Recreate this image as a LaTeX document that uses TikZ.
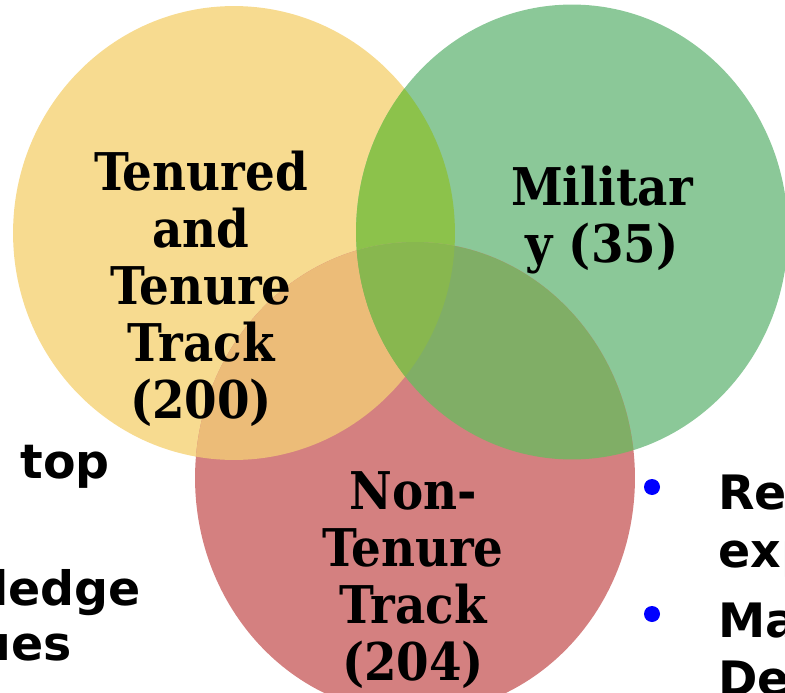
\documentclass[tikz,border=0pt]{standalone}
\usepackage{fontspec}
\newfontfamily\vennfont{DejaVu Serif Condensed}
\newfontfamily\sidefont{DejaVu Sans}
\definecolor{tenfill}{HTML}{F7DB90}
\definecolor{milfill}{HTML}{8BC898}
\definecolor{ntfill}{HTML}{D48080}
\definecolor{tmfill}{HTML}{8CC24B}
\definecolor{tnfill}{HTML}{ECBC78}
\definecolor{mnfill}{HTML}{80AE66}
\definecolor{allfill}{HTML}{88B74F}
\begin{document}
\begin{tikzpicture}[x = 0.02cm, y = -0.02cm,
    venn/.style = {font = \vennfont\bfseries\fontsize{29.6}{32.4}\selectfont, align = center, inner sep = 0pt},
    side/.style = {font = \sidefont\bfseries\fontsize{27}{31}\selectfont, inner sep = 0pt},
    bullet/.style = {circle, fill = blue, inner sep = 0pt, minimum size = 0.32cm}]
        \useasboundingbox (0,0) rectangle (785,693);

        % the three sets
        \fill[tenfill] (234,233) ellipse [x radius = 4.42cm, y radius = 4.54cm];
        \fill[milfill] (572,232) ellipse [x radius = 4.32cm, y radius = 4.55cm];
        \fill[ntfill] (415,478) ellipse [x radius = 4.40cm, y radius = 4.72cm];

        % overlaps
        \begin{scope}
            \clip (234,233) ellipse [x radius = 4.42cm, y radius = 4.54cm];
            \fill[tmfill] (572,232) ellipse [x radius = 4.32cm, y radius = 4.55cm];
            \fill[tnfill] (415,478) ellipse [x radius = 4.40cm, y radius = 4.72cm];
        \end{scope}
        \begin{scope}
            \clip (572,232) ellipse [x radius = 4.32cm, y radius = 4.55cm];
            \fill[mnfill] (415,478) ellipse [x radius = 4.40cm, y radius = 4.72cm];
            \clip (234,233) ellipse [x radius = 4.42cm, y radius = 4.54cm];
            \fill[allfill] (415,478) ellipse [x radius = 4.40cm, y radius = 4.72cm];
        \end{scope}

        % last line sits on the anchor
        \node[venn, anchor = base] (tenured) at (201,418) {Tenured\\and\\Tenure\\Track\\(200)};
        \node[venn, anchor = base] (military) at (602,262) {Militar\\y (35)};
        \node[venn, anchor = base] (nontenure) at (413,680) {Non-\\Tenure\\Track\\(204)};

        % cut text left and right
        \node[side, anchor = base west] (topword) at (20,478) {top};
        \node[side, anchor = base west] (ledge) at (-8,605) {ledge};
        \node[side, anchor = base east] (ues) at (72,660) {ues};

        \node[bullet] (dot1) at (652,487) {};
        \node[bullet] (dot2) at (652,614) {};
        \node[side, anchor = base west] (re) at (718,509) {Re};
        \node[side, anchor = base west] (exp) at (718,567) {exp};
        \node[side, anchor = base west] (ma) at (718,637) {Ma};
        \node[side, anchor = base west] (de) at (718,695) {De};
    \end{tikzpicture}
\end{document}
